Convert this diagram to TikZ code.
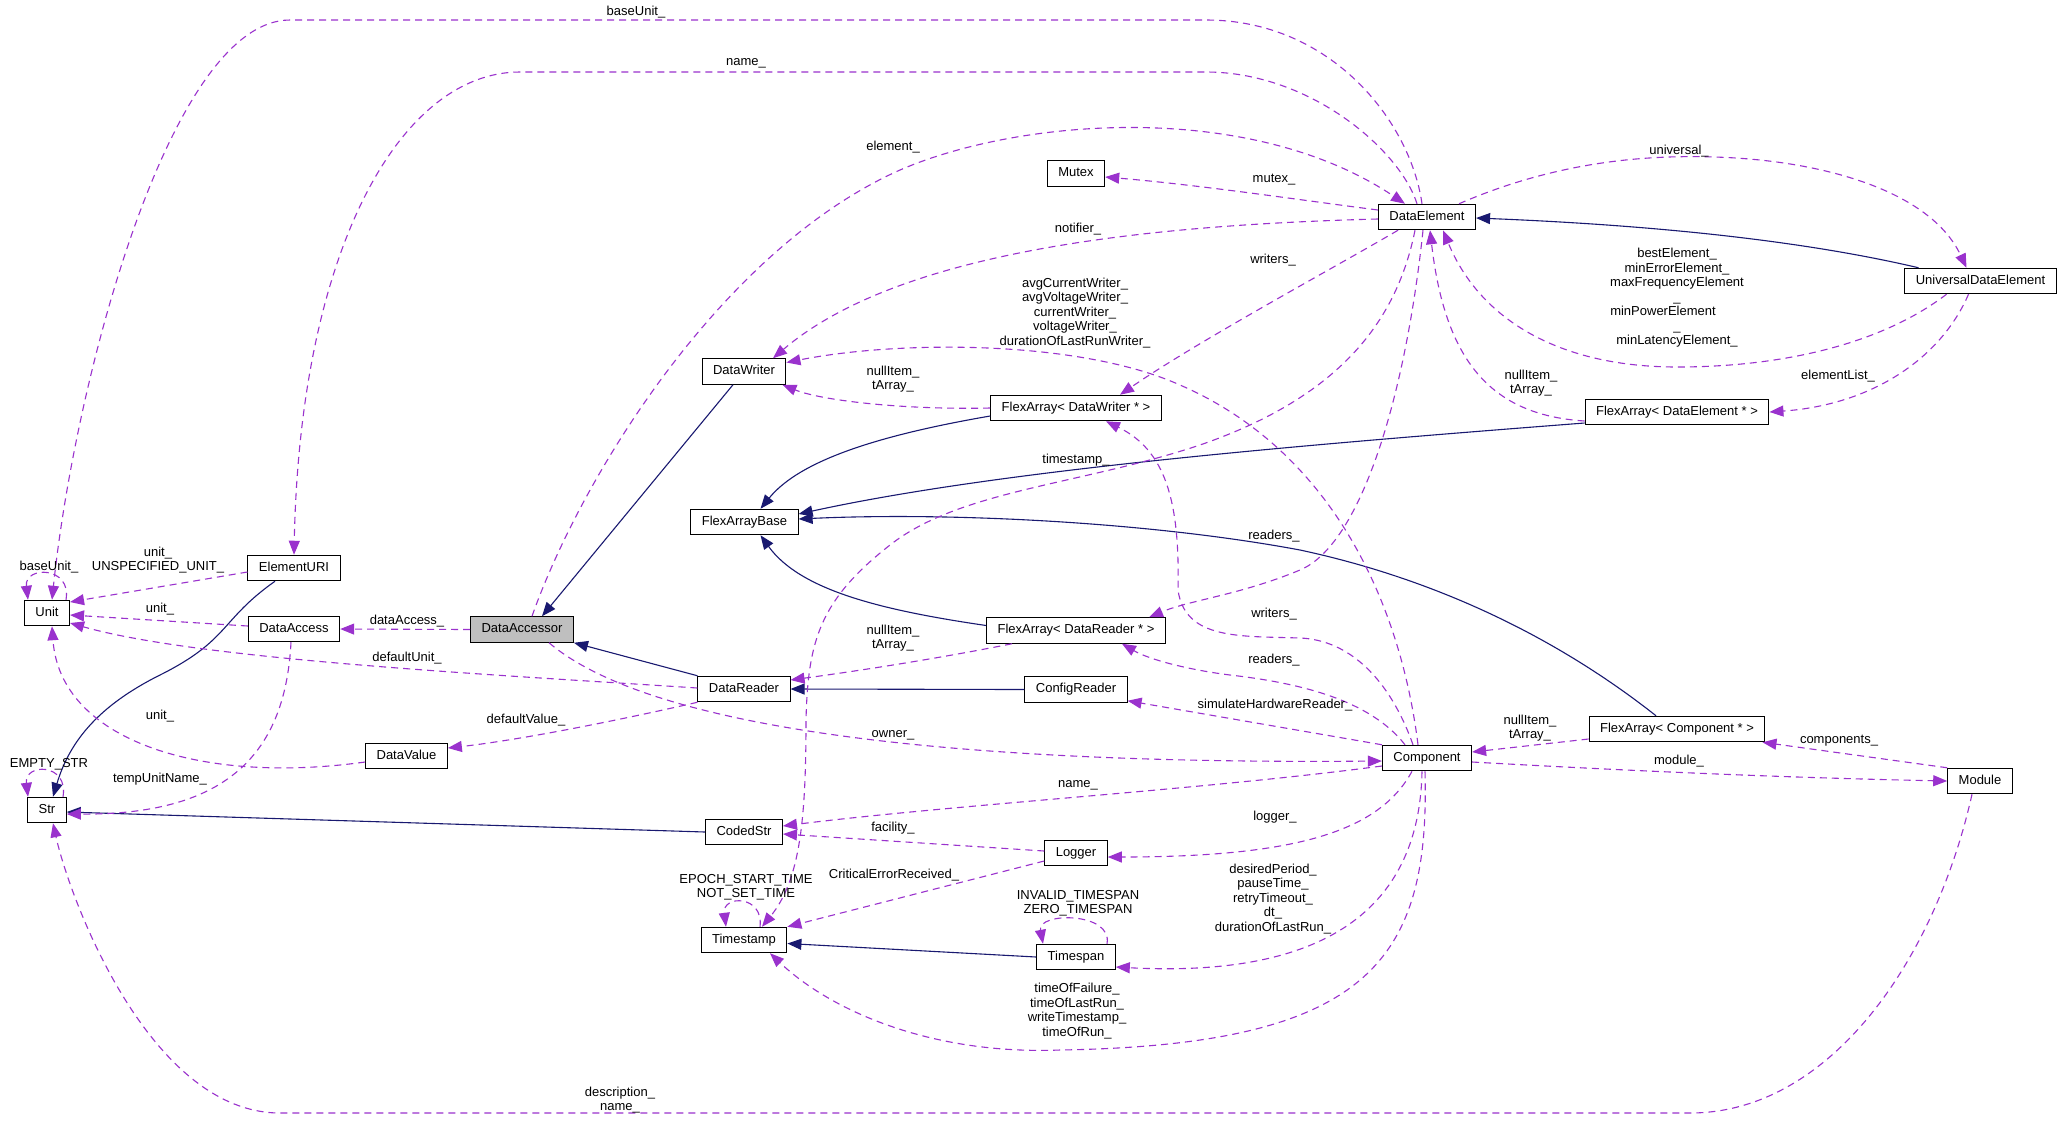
\documentclass[tikz,border=0pt]{standalone}
\usepackage{fontspec}
\setmainfont{Liberation Sans}
\usetikzlibrary{arrows.meta}
\definecolor{depcol}{HTML}{9A32CD}
\definecolor{inhcol}{HTML}{191970}
\definecolor{selcol}{HTML}{BFBFBF}
\begin{document}
\begin{tikzpicture}[x=1pt,y=-1pt,
  cls/.style={draw=black, line width=1pt, fill=white, inner xsep=11pt, inner ysep=0pt,
    minimum height=25.5pt, text height=9.5pt, text depth=2.7pt, font=\fontsize{13}{15}\selectfont},
  lbl/.style={inner sep=0pt, align=center, font=\fontsize{13}{14.5}\selectfont},
  depe/.style={draw=depcol, line width=1.1pt, dash pattern=on 7pt off 5pt, -{Triangle[length=14pt,width=11pt]}},
  inhe/.style={draw=inhcol, line width=1.1pt, -{Triangle[length=14pt,width=11pt]}},
]
\fill[white] (0,0) rectangle (2063,1120);
\useasboundingbox (0,0) rectangle (2063,1120);

% ---------------- nodes
\node[cls] (Unit) at (47,613) {Unit};
\node[cls] (Str) at (47,810) {Str};
\node[cls] (EURI) at (294,568) {ElementURI};
\node[cls] (DAcc) at (294,629) {DataAccess};
\node[cls, fill=selcol] (DAor) at (522,629.5) {DataAccessor};
\node[cls] (DV) at (406.5,756) {DataValue};
\node[cls] (DW) at (744,371.5) {DataWriter};
\node[cls] (FAB) at (744.5,522) {FlexArrayBase};
\node[cls] (DR) at (744,689) {DataReader};
\node[cls] (CS) at (744,832) {CodedStr};
\node[cls] (TS) at (744,940) {Timestamp};
\node[cls] (Mutex) at (1076,173.5) {Mutex};
\node[cls] (FADW) at (1076,408) {FlexArray< DataWriter * >};
\node[cls] (FADR) at (1076,630.5) {FlexArray< DataReader * >};
\node[cls] (CR) at (1076,689.5) {ConfigReader};
\node[cls] (Log) at (1076,853) {Logger};
\node[cls] (TSp) at (1076,957) {Timespan};
\node[cls] (DE) at (1427,217) {DataElement};
\node[cls] (Comp) at (1427,758) {Component};
\node[cls] (FADE) at (1677,412) {FlexArray< DataElement * >};
\node[cls] (FAC) at (1677,729) {FlexArray< Component * >};
\node[cls] (UDE) at (1980.5,281) {UniversalDataElement};
\node[cls] (Mod) at (1980,781) {Module};

% ---------------- inheritance (solid)
\draw[inhe] ([xshift=-11pt]DW.south) -- ([xshift=20pt]DAor.north);
\draw[inhe] (DR.north west) -- (DAor.south east);
\draw[inhe] ([xshift=-19pt]EURI.south) .. controls (220,620) and (230,640) .. (160,675) .. controls (100,705) and (70,740) .. ([xshift=6pt]Str.north);
\draw[inhe] (CS.west) -- ([yshift=-2pt]Str.east);
\draw[inhe] ([yshift=-8pt]FADW.west) .. controls (880,435) and (800,460) .. ([xshift=16pt]FAB.north);
\draw[inhe] ([yshift=-11pt]FADE.west) .. controls (1300,445) and (1000,470) .. ([yshift=8pt]FAB.east);
\draw[inhe] ([xshift=-21pt]FAC.north) .. controls (1560,640) and (1440,580) .. (1300,550) .. controls (1150,522) and (950,512) .. ([yshift=3pt]FAB.east);
\draw[inhe] ([yshift=5pt]FADR.west) .. controls (880,610) and (800,590) .. ([xshift=16pt]FAB.south);
\draw[inhe] (CR.west) -- (DR.east);
\draw[inhe] ([xshift=-62pt]UDE.north) .. controls (1800,240) and (1650,225) .. ([yshift=-1pt]DE.east);
\draw[inhe] (TSp.west) -- ([yshift=-3.5pt]TS.east);

% ---------------- usage (dashed)
\draw[depe] ([xshift=19pt]Unit.north) .. controls +(6,-34) and +(-4,-34) .. ([xshift=-19pt]Unit.north);
\draw[depe] ([xshift=16pt]Str.north) .. controls +(6,-34) and +(-4,-34) .. ([xshift=-19pt]Str.north);
\draw[depe] ([xshift=16pt]TS.north) .. controls +(4,-32) and +(-4,-32) .. ([xshift=-18pt]TS.north);
\draw[depe] ([xshift=31pt]TSp.north) .. controls +(6,-32) and +(-6,-32) .. ([xshift=-33pt]TSp.north);

\draw[depe] ([xshift=-5pt]DE.north) .. controls (1410,120) and (1330,20) .. (1206,20) -- (290,20) .. controls (170,20) and (75,380) .. ([xshift=5pt]Unit.north);
\draw[depe] ([xshift=-10pt]DE.north) .. controls (1400,150) and (1310,72) .. (1206,72) -- (520,72) .. controls (400,72) and (300,250) .. (EURI.north);
\draw[depe] ([xshift=10pt]DAor.north) .. controls (580,480) and (720,250) .. (900,170) .. controls (1020,118) and (1250,100) .. ([xshift=-22pt]DE.north);
\draw[depe] ([yshift=7pt]DE.west) .. controls (1300,200) and (1200,185) .. ([yshift=-3.5pt]Mutex.east);
\draw[depe] ([yshift=-2pt]DE.west) .. controls (1150,225) and (900,250) .. ([xshift=29pt]DW.north);
\draw[depe] ([xshift=-29pt]DE.south) .. controls (1330,270) and (1200,340) .. ([xshift=44pt]FADW.north);
\draw[depe] ([xshift=-12pt]DE.south) .. controls (1395,330) and (1330,400) .. (1200,445) .. controls (1080,485) and (960,490) .. (890,545) .. controls (820,600) and (808,640) .. (806,720) .. controls (806,820) and (800,880) .. ([xshift=18pt]TS.north);
\draw[depe] ([xshift=-4pt]DE.south) .. controls (1405,400) and (1360,545) .. (1300,570) .. controls (1240,595) and (1190,600) .. ([xshift=73pt]FADR.north);
\draw[depe] ([xshift=32pt]DE.north) .. controls (1560,160) and (1650,155) .. (1714,157) .. controls (1820,160) and (1930,190) .. ([xshift=-14pt]UDE.north);
\draw[depe] ([xshift=-34pt]UDE.south) .. controls (1880,345) and (1780,367) .. (1677,367) .. controls (1560,367) and (1480,320) .. ([xshift=16pt]DE.south);
\draw[depe] ([xshift=-12pt]UDE.south) .. controls (1940,360) and (1870,405) .. (FADE.east);
\draw[depe] ([yshift=-9pt]FADE.west) .. controls (1490,415) and (1445,360) .. ([xshift=3pt]DE.south);
\draw[depe] ([xshift=-9pt]Comp.north) .. controls (1400,600) and (1330,450) .. (1180,385) .. controls (1080,340) and (900,340) .. ([yshift=9pt]DW.east);
\draw[depe] (FADW.west) .. controls (900,410) and (820,400) .. ([xshift=-4pt]DW.south east);
\draw[depe] ([xshift=-14pt]Comp.north) .. controls (1390,680) and (1350,640) .. (1300,638) .. controls (1240,636) and (1185,640) .. (1178,590) .. controls (1180,500) and (1165,450) .. ([xshift=30pt]FADW.south);
\draw[depe] ([xshift=-22pt]Comp.north) .. controls (1370,700) and (1300,683) .. (1230,675) .. controls (1190,670) and (1150,660) .. ([xshift=46pt]FADR.south);
\draw[depe] (Comp.north west) -- ([yshift=2pt]CR.south east);
\draw[depe] ([xshift=27pt]DAor.south) .. controls (640,720) and (900,765) .. ([yshift=-3pt]Comp.west);
\draw[depe] (DAor.west) -- (DAcc.east);
\draw[depe] ([yshift=3pt]DAcc.west) -- ([yshift=-2pt]Unit.east);
\draw[depe] ([yshift=-4pt]EURI.west) -- ([yshift=11pt]Unit.east);
\draw[depe] ([yshift=1pt]DR.west) .. controls (500,675) and (200,660) .. ([yshift=-10pt]Unit.east);
\draw[depe] (DR.south west) .. controls (620,720) and (520,740) .. ([yshift=8pt]DV.east);
\draw[depe] ([yshift=-6pt]DV.west) .. controls (200,785) and (60,740) .. ([xshift=5pt]Unit.south);
\draw[depe] ([xshift=-3pt]DAcc.south) .. controls (285,760) and (220,815) .. ([yshift=-4pt]Str.east);
\draw[depe] ([xshift=-8pt]Mod.south) .. controls (1935,960) and (1830,1113) .. (1690,1113) -- (280,1113) .. controls (150,1113) and (70,900) .. ([xshift=6pt]Str.south);
\draw[depe] ([yshift=-4pt]Comp.east) .. controls (1650,772) and (1800,778) .. (Mod.west);
\draw[depe] ([yshift=-10pt]FAC.west) -- ([yshift=6pt]Comp.east);
\draw[depe] (Mod.north west) -- ([xshift=-3pt]FAC.south east);
\draw[depe] ([yshift=-8pt]Comp.west) .. controls (1200,790) and (950,805) .. ([yshift=6pt]CS.east);
\draw[depe] ([xshift=-15pt]Comp.south) .. controls (1380,830) and (1300,857) .. ([yshift=-4pt]Log.east);
\draw[depe] ([yshift=2pt]Log.west) -- ([yshift=-2pt]CS.east);
\draw[depe] ([yshift=-8pt]Log.west) -- (TS.north east);
\draw[depe] ([xshift=-5pt]Comp.south) .. controls (1420,880) and (1360,980) .. ([yshift=-10pt]TSp.east);
\draw[depe] ([xshift=-2pt]Comp.south) .. controls (1430,960) and (1370,1045) .. (1060,1050) .. controls (930,1055) and (830,1010) .. ([xshift=26pt]TS.south);
\draw[depe] ([xshift=-64pt]FADR.south) .. controls (930,660) and (850,672) .. ([yshift=9pt]DR.east);

% ---------------- labels
\node[lbl] (l1) at (636,12) {baseUnit\_};
\node[lbl] (l2) at (746,63) {name\_};
\node[lbl] (l3) at (893,147) {element\_};
\node[lbl] (l4) at (1274,180) {mutex\_};
\node[lbl] (l5) at (1679,151) {universal\_};
\node[lbl] (l6) at (1078,229) {notifier\_};
\node[lbl] (l7) at (1273,260) {writers\_};
\node[lbl] (l8) at (1075,313) {avgCurrentWriter\_\\avgVoltageWriter\_\\currentWriter\_\\voltageWriter\_\\durationOfLastRunWriter\_};
\node[lbl] (l9) at (893,379) {nullItem\_\\tArray\_};
\node[lbl] (l10) at (1677,298) {bestElement\_\\minErrorElement\_\\maxFrequencyElement\\\_\\\hbox{minPowerElement\kern28pt}\\\_\\minLatencyElement\_};
\node[lbl] (l11) at (1531,383) {nullItem\_\\tArray\_};
\node[lbl] (l12) at (1838,376) {elementList\_};
\node[lbl] (l13) at (1076,460) {timestamp\_};
\node[lbl] (l14) at (1274,536) {readers\_};
\node[lbl] (l15) at (49,567) {baseUnit\_};
\node[lbl] (l16) at (158,560) {unit\_\\UNSPECIFIED\_UNIT\_};
\node[lbl] (l17) at (160,609) {unit\_};
\node[lbl] (l18) at (407,621) {dataAccess\_};
\node[lbl] (l19) at (407,658) {defaultUnit\_};
\node[lbl] (l20) at (893,638) {nullItem\_\\tArray\_};
\node[lbl] (l21) at (1274,614) {writers\_};
\node[lbl] (l22) at (1274,660) {readers\_};
\node[lbl] (l23) at (1275,705) {simulateHardwareReader\_};
\node[lbl] (l24) at (893,735) {owner\_};
\node[lbl] (l25) at (526,720) {defaultValue\_};
\node[lbl] (l26) at (160,716) {unit\_};
\node[lbl] (l27) at (49,764) {EMPTY\_STR};
\node[lbl] (l28) at (160,779) {tempUnitName\_};
\node[lbl] (l29) at (1530,728) {nullItem\_\\tArray\_};
\node[lbl] (l30) at (1839,741) {components\_};
\node[lbl] (l31) at (1679,761) {module\_};
\node[lbl] (l32) at (1078,785) {name\_};
\node[lbl] (l33) at (893,828) {facility\_};
\node[lbl] (l34) at (1275,817) {logger\_};
\node[lbl] (l35) at (894,875) {CriticalErrorReceived\_};
\node[lbl] (l36) at (746,887) {EPOCH\_START\_TIME\\NOT\_SET\_TIME};
\node[lbl] (l37) at (1078,903) {INVALID\_TIMESPAN\\ZERO\_TIMESPAN};
\node[lbl] (l38) at (1273,899) {desiredPeriod\_\\pauseTime\_\\retryTimeout\_\\dt\_\\durationOfLastRun\_};
\node[lbl] (l39) at (1077,1011) {timeOfFailure\_\\timeOfLastRun\_\\writeTimestamp\_\\timeOfRun\_};
\node[lbl] (l40) at (620,1100) {description\_\\name\_};
\end{tikzpicture}
\end{document}
